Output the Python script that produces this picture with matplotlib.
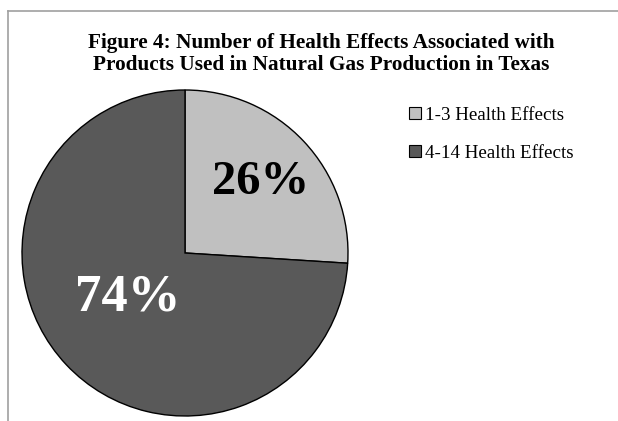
import matplotlib.pyplot as plt
from matplotlib.lines import Line2D
from matplotlib.patches import Patch

# data
labels = ['1-3 Health Effects', '4-14 Health Effects']
shares = [26, 74]
colors = ['#c0c0c0', '#595959']
pct_colors = ['black', 'white']

W, H = 618, 421
fig = plt.figure(figsize=(W / 100, H / 100), dpi=100)
plt.rcParams['font.family'] = ['Liberation Serif', 'DejaVu Serif']

# pie area: center (185, 253), radius 163 px
cx, cy, r = 185, 253, 163
ax = fig.add_axes([(cx - r) / W, (H - cy - r) / H, 2 * r / W, 2 * r / H])
wedges, texts, autotexts = ax.pie(
    shares, colors=colors, startangle=90, counterclock=False,
    autopct='%d%%', pctdistance=0.64,
    wedgeprops={'edgecolor': 'black', 'linewidth': 1.0},
)
ax.set_xlim(-1.0, 1.0)
ax.set_ylim(-1.0, 1.0)
ax.set_aspect('equal')
ax.axis('off')

for t, c in zip(autotexts, pct_colors):
    t.set_color(c)
    t.set_fontweight('bold')
    t.set_fontsize(35)
# the big label sits nearer the centre than the default spot
autotexts[1].set_position((-0.35, -0.27))
autotexts[1].set_fontsize(38)

# title
fig.text(321 / W, 1 - 54 / H,
         'Figure 4: Number of Health Effects Associated with\n'
         'Products Used in Natural Gas Production in Texas',
         ha='center', va='center', fontsize=15.3, fontweight='bold',
         linespacing=1.12)

# legend
handles = [Patch(facecolor=c, edgecolor='black', linewidth=0.8) for c in colors]
fig.legend(handles, labels, loc='upper left', bbox_to_anchor=(392 / W, 1 - 90 / H),
           frameon=False, fontsize=13.7, handlelength=0.6, handleheight=0.6,
           handletextpad=0.22, labelspacing=1.1)

# gray frame (cropped at right and bottom)
fig.add_artist(Line2D([8 / W, 1.0], [1 - 11 / H, 1 - 11 / H], color='#a0a0a0', lw=1.2,
                      transform=fig.transFigure))
fig.add_artist(Line2D([8 / W, 8 / W], [1 - 11 / H, 0.0], color='#a0a0a0', lw=1.2,
                      transform=fig.transFigure))

fig.savefig('out.png', dpi=100)
